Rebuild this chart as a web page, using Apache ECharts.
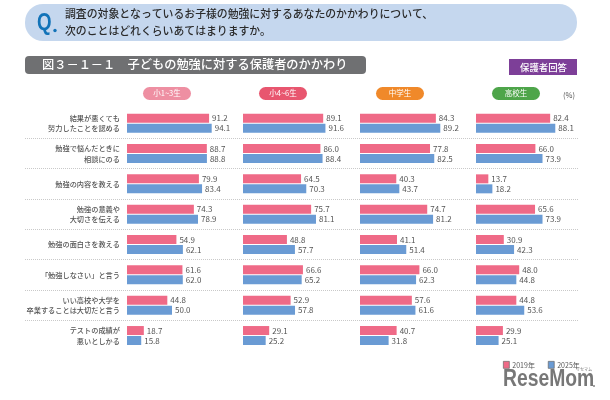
<!DOCTYPE html>
<html>
<head>
<meta charset="utf-8">
<style>html,body{margin:0;padding:0;background:#fff}</style>
<script src="https://cdn.jsdelivr.net/npm/echarts@6/dist/echarts.min.js"></script>
</head>
<body>
<div id="main" style="width:610px;height:400px"></div>
<script>
var items = ['結果が悪くても\n努力したことを認める', '勉強で悩んだときに\n相談にのる', '勉強の内容を教える', '勉強の意義や\n大切さを伝える', '勉強の面白さを教える', '「勉強しなさい」と言う', 'いい高校や大学を\n卒業することは大切だと言う', 'テストの成績が\n悪いとしかる'];
var panels = ['小1~3生', '小4~6生', '中学生', '高校生'];
var values2019 = [
  [91.2, 88.7, 79.9, 74.3, 54.9, 61.6, 44.8, 18.7],
  [89.1, 86.0, 64.5, 75.7, 48.8, 66.6, 52.9, 29.1],
  [84.3, 77.8, 40.3, 74.7, 41.1, 66.0, 57.6, 40.7],
  [82.4, 66.0, 13.7, 65.6, 30.9, 48.0, 44.8, 29.9]
];
var values2025 = [
  [94.1, 88.8, 83.4, 78.9, 62.1, 62.0, 50.0, 15.8],
  [91.6, 88.4, 70.3, 81.1, 57.7, 65.2, 57.8, 25.2],
  [89.2, 82.5, 43.7, 81.2, 51.4, 62.3, 61.6, 31.8],
  [88.1, 73.9, 18.2, 73.9, 42.3, 44.8, 53.6, 25.1]
];
var panelLeft = [127, 243, 360, 476];
var pillColor = ['#ee8fa2', '#e8566f', '#f0892a', '#4ea54a'];
var font = '"Noto Sans CJK JP", sans-serif';
var textColor = '#555';

var grids = [{left: 25, top: 108, width: 553, height: 242.7}];
var xAxes = [{gridIndex: 0, type: 'value', show: false}];
var yAxes = [{
  gridIndex: 0, type: 'category', inverse: true, data: items,
  axisLine: {show: false}, axisTick: {show: false}, axisLabel: {show: false},
  splitLine: {show: true, showMinLine: false, showMaxLine: false, lineStyle: {color: '#c9c9c9', type: 'dotted', width: 1}}
}];
var series = [];
var graphic = [
  {type: 'rect', shape: {x: 25, y: 4, width: 552, height: 37, r: 18}, style: {fill: '#c5d7ee'}},
  {type: 'text', x: 37, y: 11, scaleX: 0.78, style: {text: 'Q', fill: '#1273b8', font: 'bold 24px "Liberation Sans", sans-serif'}},
  {type: 'circle', shape: {cx: 55, cy: 30.5, r: 1.7}, style: {fill: '#1273b8'}},
  {type: 'text', x: 65, y: 8, style: {text: '調査の対象となっているお子様の勉強に対するあなたのかかわりについて、', fill: '#2b2b2b', font: '500 10.85px ' + font}},
  {type: 'text', x: 65, y: 25, style: {text: '次のことはどれくらいあてはまりますか。', fill: '#2b2b2b', font: '500 10.85px ' + font}},
  {type: 'rect', shape: {x: 25, y: 56, width: 341, height: 18, r: 4}, style: {fill: '#6f7072'}},
  {type: 'text', x: 42, y: 58, style: {text: '図３－１－１　子どもの勉強に対する保護者のかかわり', fill: '#fff', font: '500 12.22px ' + font}},
  {type: 'rect', shape: {x: 509, y: 59, width: 68, height: 16}, style: {fill: '#7d3f98'}},
  {type: 'text', x: 543.5, y: 67, style: {text: '保護者回答', fill: '#fff', align: 'center', verticalAlign: 'middle', font: '500 9.4px ' + font}},
  {type: 'text', x: 569, y: 95, style: {text: '(%)', fill: textColor, align: 'center', verticalAlign: 'middle', font: '7.5px ' + font}}
];

panels.forEach(function (name, i) {
  grids.push({left: panelLeft[i], top: 108, width: 90, height: 242.7});
  xAxes.push({gridIndex: i + 1, type: 'value', min: 0, max: 100, show: false});
  yAxes.push({
    gridIndex: i + 1, type: 'category', inverse: true, data: items,
    axisLine: {show: false}, axisTick: {show: false}, splitLine: {show: false},
    axisLabel: {show: i === 0, margin: 7, align: 'right', fontSize: 7.2, lineHeight: 10.7, fontWeight: 500, color: textColor, fontFamily: font}
  });
  var label = {show: true, position: 'right', distance: 3, fontSize: 8, color: textColor, fontFamily: font, formatter: function (p) { return p.value.toFixed(1); }};
  series.push({name: '2019年', type: 'bar', xAxisIndex: i + 1, yAxisIndex: i + 1, data: values2019[i], barWidth: 9, barGap: '11%', itemStyle: {color: '#ef6a87'}, label: label});
  series.push({name: '2025年', type: 'bar', xAxisIndex: i + 1, yAxisIndex: i + 1, data: values2025[i], barWidth: 9, barGap: '11%', itemStyle: {color: '#6a9bd4'}, label: label});
  var cx = panelLeft[i] + 40;
  graphic.push({type: 'rect', shape: {x: cx - 24, y: 87, width: 48, height: 13, r: 6.5}, style: {fill: pillColor[i]}});
  graphic.push({type: 'text', x: cx, y: 93.5, style: {text: name, fill: '#fff', align: 'center', verticalAlign: 'middle', font: '7.5px ' + font}});
});

var chart = echarts.init(document.getElementById('main'));
chart.setOption({
  animation: false,
  backgroundColor: '#fff',
  grid: grids,
  xAxis: xAxes,
  yAxis: yAxes,
  legend: {
    data: ['2019年', '2025年'], left: 503, top: 361, padding: 0, icon: 'rect', itemWidth: 6, itemHeight: 7, itemGap: 13,
    itemStyle: {borderColor: '#666', borderWidth: 0.7},
    textStyle: {fontSize: 7, padding: [0, 0, 0, -2], color: textColor, fontFamily: font}
  },
  graphic: graphic.concat([
    {type: 'text', x: 503, y: 368, scaleX: 0.84, style: {text: 'ReseMom', fill: '#777', font: 'bold 23px "Liberation Sans", sans-serif'}},
    {type: 'circle', shape: {cx: 594, cy: 386, r: 0.9}, style: {fill: '#777'}},
    {type: 'text', x: 584, y: 369, style: {text: 'リセマム', fill: '#777', align: 'center', verticalAlign: 'middle', font: '4px ' + font}}
  ]),
  series: series
});
</script>
</body>
</html>
